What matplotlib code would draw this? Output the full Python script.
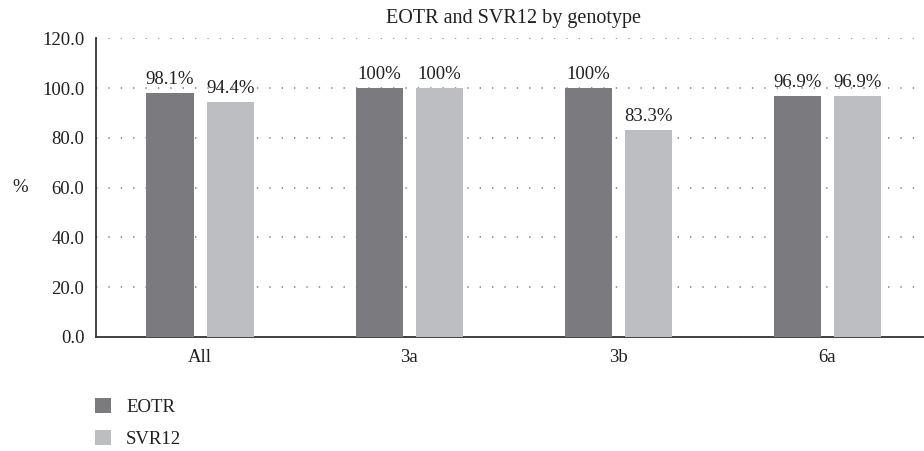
import numpy as np
import matplotlib.pyplot as plt

plt.rcParams['font.family'] = ['Liberation Serif', 'DejaVu Serif']

genotypes = ['All', '3a', '3b', '6a']
eotr = [98.1, 100, 100, 96.9]
svr12 = [94.4, 100, 83.3, 96.9]

dark = '#7b7b7f'
light = '#bdbec2'
txt = '#231f20'
fs = 13.5


def fmt(v):
    return '100%' if v == 100 else f'{v:.1f}%'


fig = plt.figure(figsize=(9.24, 4.51), dpi=100)
ax = fig.add_axes([0.1034, 0.2528, 0.9053, 0.6623])

x = np.arange(len(genotypes))
w = 0.225
off = 0.144
b1 = ax.bar(x - off, eotr, w, color=dark, label='EOTR', zorder=3)
b2 = ax.bar(x + off, svr12, w, color=light, label='SVR12', zorder=3)

ax.bar_label(b1, labels=[fmt(v) for v in eotr], padding=3.5, fontsize=fs, color=txt)
ax.bar_label(b2, labels=[fmt(v) for v in svr12], padding=3.5, fontsize=fs, color=txt)

ax.set_xlim(-0.5, len(genotypes) - 0.5)
ax.set_ylim(0, 120)
ax.set_yticks(np.arange(0, 121, 20))
ax.set_yticklabels([f'{v:.1f}' for v in np.arange(0, 121, 20)])
ax.set_xticks(x)
ax.set_xticklabels(genotypes)
ax.tick_params(axis='both', length=0, labelsize=fs, colors=txt)
ax.tick_params(axis='y', pad=8)
ax.tick_params(axis='x', pad=9)

ax.yaxis.grid(True, color='#7a7a7a', linewidth=1.1, linestyle=(0, (0.9, 7.2)), zorder=0)
ax.set_axisbelow(True)

for s in ['top', 'right']:
    ax.spines[s].set_visible(False)
for s in ['left', 'bottom']:
    ax.spines[s].set_color('#333333')
    ax.spines[s].set_linewidth(1.3)

ax.set_ylabel('%', rotation=0, fontsize=fs, color=txt, va='center')
ax.yaxis.set_label_coords(-0.09, 0.5)

ax.set_title('EOTR and SVR12 by genotype', fontsize=14.5, color=txt, pad=11)

fig.legend(handles=[b1, b2], loc='upper left', bbox_to_anchor=(0.095, 0.135),
           frameon=False, fontsize=fs, handlelength=0.85, handleheight=0.85,
           handletextpad=0.8, labelspacing=0.75, borderaxespad=0, labelcolor=txt)

fig.savefig('out.png', dpi=100)
